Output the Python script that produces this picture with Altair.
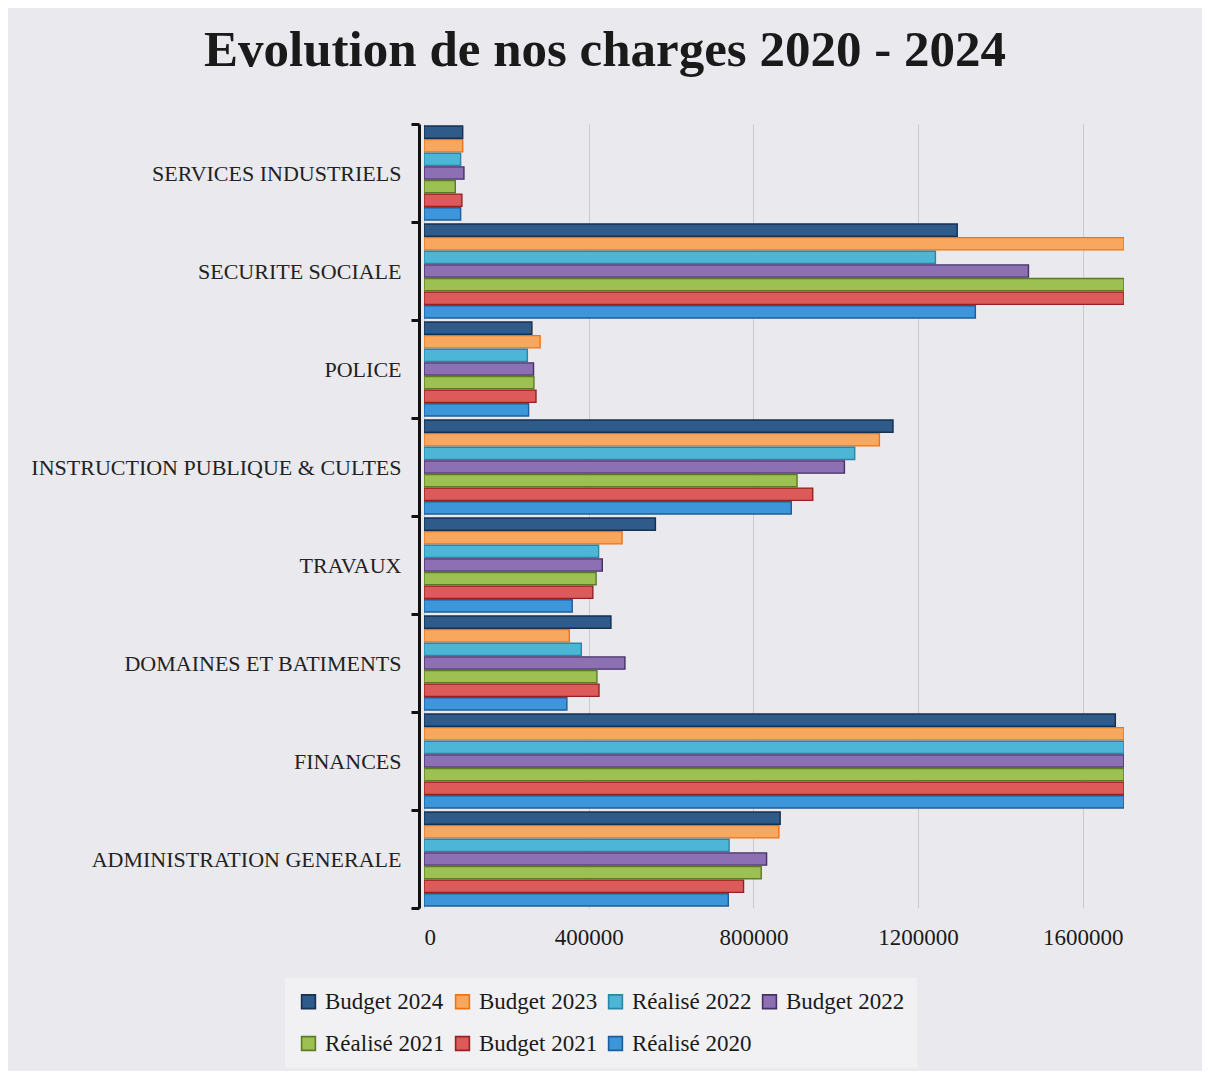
import altair as alt
import pandas as pd

categories = ["SERVICES INDUSTRIELS", "SECURITE SOCIALE", "POLICE",
              "INSTRUCTION PUBLIQUE & CULTES", "TRAVAUX",
              "DOMAINES ET BATIMENTS", "FINANCES", "ADMINISTRATION GENERALE"]
series = ["Budget 2024", "Budget 2023", "Réalisé 2022", "Budget 2022",
          "Réalisé 2021", "Budget 2021", "Réalisé 2020"]

budget_2024 = [94000, 1295000, 262000, 1139000, 562000, 454000, 1679000, 865000]
budget_2023 = [94000, 1700000, 282000, 1106000, 481000, 353000, 1700000, 862000]
realise_2022 = [89000, 1242000, 251000, 1046000, 424000, 382000, 1700000, 741000]
budget_2022 = [97000, 1468000, 266000, 1021000, 433000, 488000, 1700000, 832000]
realise_2021 = [76000, 1700000, 267000, 906000, 418000, 420000, 1700000, 819000]
budget_2021 = [92000, 1700000, 272000, 944000, 410000, 425000, 1700000, 776000]
realise_2020 = [89000, 1339000, 254000, 892000, 360000, 347000, 1700000, 739000]

x_ticks = [0, 400000, 800000, 1200000, 1600000]

fill_colors = ["#2f5b8a", "#f8a85e", "#4db6d6", "#8c70b3", "#9cc152", "#dc5a5a", "#3d95da"]
stroke_colors = ["#16304f", "#ee7318", "#2a86a6", "#463066", "#5c7b22", "#952222", "#1c5e9c"]

values = [budget_2024, budget_2023, realise_2022, budget_2022,
          realise_2021, budget_2021, realise_2020]
rows = []
for s, vals in zip(series, values):
    for c, v in zip(categories, vals):
        rows.append({"categorie": c, "serie": s, "valeur": v})
df = pd.DataFrame(rows)

FONT = "Liberation Serif"

legend = alt.Legend(
    orient="none", legendX=-139, legendY=854, columns=4, direction="horizontal",
    title=None, symbolType="square", symbolSize=190, symbolStrokeWidth=1.6,
    labelFont=FONT, labelFontSize=23, labelColor="#1a1a1a", labelOffset=5,
    fillColor="#f1f1f4", padding=12, rowPadding=18, columnPadding=6,
    labelLimit=300,
)

chart = alt.Chart(df).mark_bar(clip=True, strokeWidth=1.4, filled=True,
                               fillOpacity=1, opacity=1).encode(
    y=alt.Y("categorie:N", sort=categories,
            scale=alt.Scale(domain=categories, paddingInner=0, paddingOuter=0),
            axis=alt.Axis(title=None, tickBand="extent", ticks=True, tickSize=8,
                          tickColor="#111111", tickWidth=3, domainColor="#111111",
                          domainWidth=3, offset=5, labelFont=FONT, labelFontSize=22,
                          labelColor="#222222", labelPadding=10, grid=False,
                          labelLimit=500)),
    yOffset=alt.YOffset("serie:N", sort=series,
                        scale=alt.Scale(domain=series, paddingInner=0.1, paddingOuter=0.15)),
    x=alt.X("valeur:Q",
            scale=alt.Scale(domain=[0, 1700000], nice=False),
            axis=alt.Axis(values=x_ticks, format="d", title=None, domain=False,
                          ticks=False, grid=True, gridColor="#c9c9d2", gridWidth=1,
                          labelFont=FONT, labelFontSize=23, labelColor="#1a1a1a",
                          labelPadding=18)),
    fill=alt.Fill("serie:N", sort=series,
                  scale=alt.Scale(domain=series, range=fill_colors), legend=legend),
    stroke=alt.Stroke("serie:N", sort=series,
                      scale=alt.Scale(domain=series, range=stroke_colors), legend=legend),
).properties(
    width=700, height=784,
    padding={"left": 416, "top": 116, "right": 78, "bottom": 163},
    autosize=alt.AutoSizeParams(type="none"),
    title=alt.Title("Evolution de nos charges 2020 - 2024", font=FONT, fontSize=51,
                    fontWeight="bold", color="#1a1a1a", anchor="middle", dx=-169,
                    offset=36),
).configure(background="#eaeaee").configure_view(stroke=None)

chart.save("out.html", embed_options={"renderer": "svg", "actions": False})
